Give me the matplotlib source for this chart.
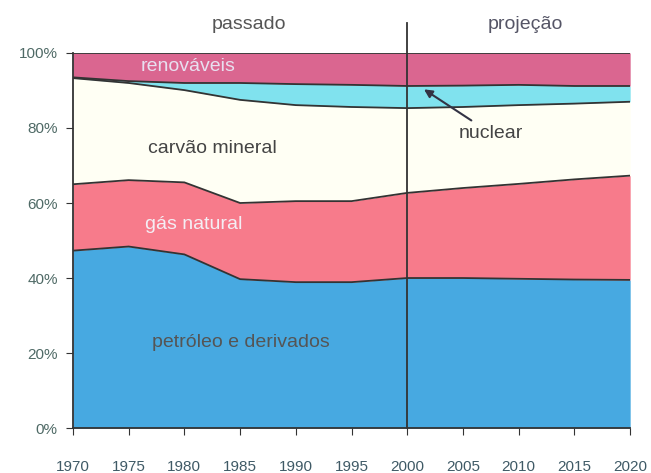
import matplotlib
matplotlib.use("Agg")
import matplotlib.pyplot as plt
import numpy as np

years = [1970, 1975, 1980, 1985, 1990, 1995, 2000, 2005, 2010, 2015, 2020]
# shares in % (each layer's own share)
petroleo = [47.3, 48.4, 46.3, 39.7, 38.9, 38.9, 40.0, 40.0, 39.8, 39.6, 39.5]
gas      = [17.7, 17.7, 19.2, 20.3, 21.6, 21.6, 22.7, 24.0, 25.3, 26.7, 27.8]
carvao   = [28.3, 25.9, 24.6, 27.5, 25.6, 25.1, 22.6, 21.6, 21.0, 20.2, 19.7]
nuclear  = [0.2, 0.5, 1.9, 4.5, 5.6, 5.9, 5.9, 5.7, 5.4, 4.7, 4.2]
renov    = [6.5, 7.5, 8.0, 8.0, 8.3, 8.5, 8.8, 8.7, 8.5, 8.8, 8.8]

layers = [petroleo, gas, carvao, nuclear, renov]
colors = ["#47a9e1", "#f77b8b", "#fffff4", "#80e2ee", "#da6690"]
xticks = [1970, 1975, 1980, 1985, 1990, 1995, 2000, 2005, 2010, 2015, 2020]
yticks = [0, 20, 40, 60, 80, 100]

fig = plt.figure(figsize=(6.51, 4.73), dpi=100)
ax = fig.add_axes([0.112, 0.095, 0.856, 0.793])
x = np.array(years)
base = np.zeros(len(years))
for vals, col in zip(layers, colors):
    top = base + np.array(vals)
    ax.fill_between(x, base, top, color=col, linewidth=0, zorder=1)
    ax.plot(x, top, color="#333333", lw=1.3, zorder=2)
    base = top

ax.set_xlim(1970, 2020)
ax.set_ylim(0, 100)
ax.set_xticks(xticks)
ax.set_yticks(yticks)
ax.set_yticklabels([f"{v}%" for v in yticks])
ax.tick_params(axis="x", direction="out", length=5, pad=18, labelsize=11,
               labelcolor="#3f5a66", color="#333333")
ax.tick_params(axis="y", direction="out", length=5, pad=6, labelsize=11,
               labelcolor="#4f6a66", color="#333333")
for lab in ax.get_xticklabels() + ax.get_yticklabels():
    lab.set_family("Liberation Sans")
for side in ["top", "right"]:
    ax.spines[side].set_visible(False)
for side in ["left", "bottom"]:
    ax.spines[side].set_color("#333333")
    ax.spines[side].set_linewidth(1.3)

# divider line at 2000
ax.plot([2000, 2000], [0, 108], color="#333333", lw=1.3, clip_on=False, zorder=3)

fp = dict(family="Liberation Sans", fontsize=14)
ax.text(1985.8, 107.5, "passado", color="#555555", ha="center", va="center", **fp)
ax.text(2010.6, 107.5, "projeção", color="#555566", ha="center", va="center", **fp)
ax.text(1980.3, 96.3, "renováveis", color="#e8e0f0", ha="center", va="center", **fp)
ax.text(1982.5, 74.5, "carvão mineral", color="#444444", ha="center", va="center", **fp)
ax.text(1980.8, 54.4, "gás natural", color="#f4eef4", ha="center", va="center", **fp)
ax.text(1985.1, 22.9, "petróleo e derivados", color="#555555", ha="center", va="center", **fp)
ax.annotate("nuclear", xy=(2001.5, 90.3), xytext=(2007.5, 78.6),
            color="#444444", ha="center", va="center", fontsize=14, family="Liberation Sans",
            arrowprops=dict(arrowstyle="-|>", color="#333344", lw=1.5,
                            shrinkA=2, shrinkB=0, mutation_scale=12),
            zorder=5)

fig.savefig("out.png", dpi=100)
